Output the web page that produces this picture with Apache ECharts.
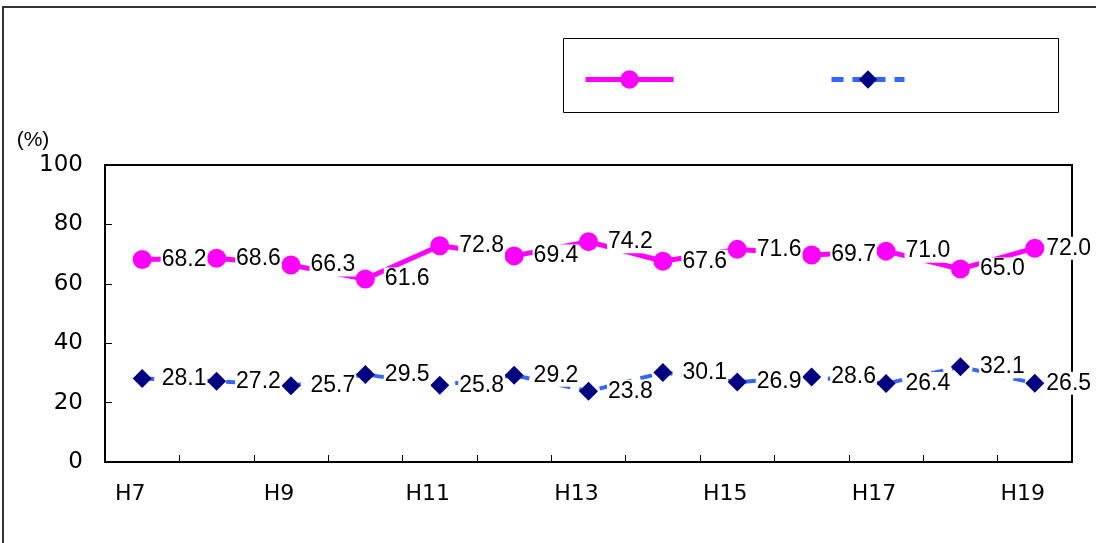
<!DOCTYPE html>
<html>
<head>
<meta charset="utf-8">
<script src="https://cdn.jsdelivr.net/npm/echarts@6/dist/echarts.min.js"></script>
<style>
html,body{margin:0;padding:0;background:#fff;}
#c{width:1096px;height:543px;}
</style>
</head>
<body>
<div id="c"></div>
<script>
const categories = ['H7','H8','H9','H10','H11','H12','H13','H14','H15','H16','H17','H18','H19'];
const seriesA = [68.2, 68.6, 66.3, 61.6, 72.8, 69.4, 74.2, 67.6, 71.6, 69.7, 71.0, 65.0, 72.0];
const seriesB = [28.1, 27.2, 25.7, 29.5, 25.8, 29.2, 23.8, 30.1, 26.9, 28.6, 26.4, 32.1, 26.5];
const yTicks = [0, 20, 40, 60, 80, 100];

const FONT = 'Liberation Sans';
const AXFONT = 'DejaVu Sans';
const chart = echarts.init(document.getElementById('c'), null, {renderer: 'canvas'});
const labelStyle = {
  show: true, position: 'right', distance: 9,
  color: '#000', fontFamily: FONT, fontSize: 23,
  backgroundColor: '#fff', padding: [0, 1],
  formatter: p => p.value.toFixed(1)
};
const last = categories.length - 1;
const withLastLabel = arr => arr.map((v, i) => i === last ? {value: v, label: {distance: 1}} : v);
chart.setOption({
  animation: false,
  backgroundColor: '#fff',
  graphic: [
    {type: 'rect', shape: {x: 3, y: 7, width: 1110, height: 560}, style: {fill: 'none', stroke: '#333', lineWidth: 2}, z: -1},
    {type: 'rect', shape: {x: 563.5, y: 38.5, width: 495, height: 74}, style: {fill: '#fff', stroke: '#000', lineWidth: 1}, z: 0}
  ],
  legend: [
    {data: ['A'], left: 578, top: 63, itemWidth: 88, itemHeight: 23, formatter: () => '', textStyle: {fontSize: 1},
     lineStyle: {width: 5}, z: 10},
    {data: ['B'], left: 824, top: 63, itemWidth: 73, itemHeight: 23, formatter: () => '', textStyle: {fontSize: 1},
     lineStyle: {width: 5}, z: 10}
  ],
  grid: {left: 105, top: 165, right: 24, bottom: 81, show: true, borderColor: '#000', borderWidth: 2},
  xAxis: {
    type: 'category', data: categories, boundaryGap: true,
    axisLine: {lineStyle: {color: '#000', width: 2}},
    axisTick: {show: true, inside: true, length: 7, interval: 0, lineStyle: {color: '#000', width: 1}},
    axisLabel: {interval: 1, color: '#000', fontFamily: AXFONT, fontSize: 22, margin: 21, padding: [0, 24, 0, 0]},
    splitLine: {show: false}
  },
  yAxis: {
    type: 'value', min: yTicks[0], max: yTicks[yTicks.length - 1], interval: 20,
    name: '(%)', nameLocation: 'end', nameGap: 14,
    nameTextStyle: {color: '#000', fontFamily: FONT, fontSize: 21, padding: [0, 144, 0, 0]},
    axisLine: {show: true, lineStyle: {color: '#000', width: 2}},
    axisTick: {show: true, inside: true, length: 7, lineStyle: {color: '#000', width: 1}},
    axisLabel: {color: '#000', fontFamily: AXFONT, fontSize: 23, margin: 22},
    splitLine: {show: false}
  },
  series: [
    {
      name: 'A', type: 'line', data: withLastLabel(seriesA),
      symbol: 'circle', symbolSize: 19,
      lineStyle: {color: '#FF00FF', width: 5},
      itemStyle: {color: '#FF00FF'},
      label: labelStyle, z: 3
    },
    {
      name: 'B', type: 'line', data: withLastLabel(seriesB),
      symbol: 'diamond', symbolSize: 19,
      lineStyle: {color: '#3366FF', width: 4, type: [12, 9]},
      itemStyle: {color: '#000080'},
      label: labelStyle, z: 3
    }
  ]
});
</script>
</body>
</html>
